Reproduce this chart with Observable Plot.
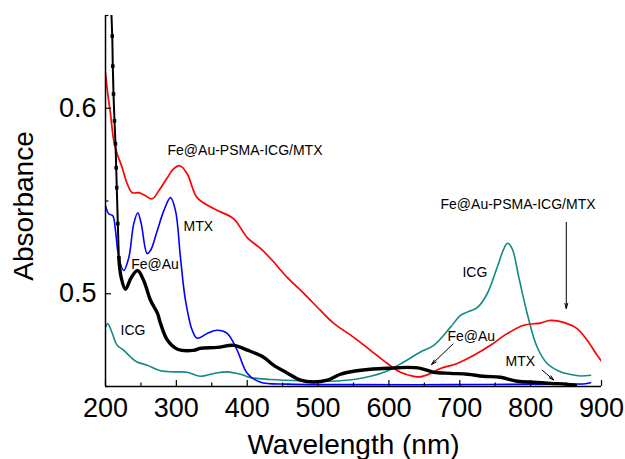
<!DOCTYPE html>
<html><head><meta charset="utf-8">
<script src="https://cdn.jsdelivr.net/npm/d3@7"></script>
<script src="https://cdn.jsdelivr.net/npm/@observablehq/plot@0.6"></script>
<style>body{margin:0;background:#fff}</style>
</head><body><div id="chart"></div>
<script>
// Fe@Au (black)
const feAuWl  = [206.5, 209.5, 210.3, 211.3, 212.7, 214.1, 215.1, 215.9, 217.4, 218.8, 222.1, 228.2, 236, 245.2, 254, 263.5, 273.4, 277.6, 287.5, 301.6, 324.2, 334.1, 358.1, 380.6, 400.4, 423, 437.1, 456.8, 475.2, 493.5, 513.3, 531.6, 550, 574, 598, 626.2, 644.5, 662.9, 686.9, 710.9, 733.4, 757.4, 781.4, 804, 828, 850, 863];
const feAuAbs = [0.668, 0.6389, 0.6227, 0.6077, 0.5932, 0.5808, 0.5679, 0.5572, 0.5378, 0.5195, 0.5088, 0.5024, 0.5085, 0.5125, 0.5070, 0.4965, 0.4894, 0.4840, 0.4749, 0.4701, 0.4695, 0.4706, 0.4711, 0.4722, 0.4696, 0.4658, 0.4615, 0.4572, 0.4534, 0.4524, 0.4534, 0.4566, 0.4582, 0.4593, 0.4598, 0.4603, 0.4598, 0.4577, 0.4571, 0.4566, 0.4555, 0.4550, 0.4528, 0.4523, 0.4517, 0.4513, 0.4507];
// MTX (blue)
const mtxWl  = [200, 204.7, 210.3, 214.1, 218.8, 225.8, 232.9, 239.9, 245.6, 250.4, 258.8, 263.5, 273, 282.3, 291.7, 298.8, 305.8, 312.9, 322.4, 329.4, 343.5, 357.6, 371.7, 385.9, 400, 418.7, 456.8, 545.8, 686.9, 828, 877.4, 884.5];
const mtxAbs = [0.5475, 0.5430, 0.5421, 0.5340, 0.5195, 0.5125, 0.5195, 0.5378, 0.5437, 0.5378, 0.5217, 0.5233, 0.5340, 0.5448, 0.5518, 0.5448, 0.5195, 0.4964, 0.4803, 0.4760, 0.4786, 0.4803, 0.4786, 0.4695, 0.4572, 0.4523, 0.4513, 0.4510, 0.4510, 0.4513, 0.4515, 0.4520];
// ICG (teal)
const icgWl  = [200, 203.2, 209.5, 216.5, 225.8, 235.3, 244.6, 258.8, 277.6, 296.4, 315.3, 334.1, 352.8, 371.7, 390.5, 404.6, 432.9, 479.8, 503.4, 526.9, 550.4, 574, 597.5, 621, 644.5, 663.3, 686.9, 701, 710.5, 724.6, 738.7, 752.8, 762.1, 767.3, 774, 783.3, 795.2, 809.1, 823.3, 842.1, 856.2, 870.3, 884.5];
const icgAbs = [0.4820, 0.4839, 0.4787, 0.4722, 0.4695, 0.4659, 0.4632, 0.4615, 0.4585, 0.4579, 0.4577, 0.4555, 0.4570, 0.4579, 0.4566, 0.4548, 0.4538, 0.4530, 0.4528, 0.4530, 0.4538, 0.4555, 0.4584, 0.4632, 0.4686, 0.4722, 0.4820, 0.4883, 0.4901, 0.4925, 0.5000, 0.5143, 0.5242, 0.5272, 0.5242, 0.5089, 0.4892, 0.4713, 0.4624, 0.4579, 0.4565, 0.4557, 0.4561];
// Fe@Au-PSMA-ICG/MTX (red)
const nanoWl  = [200, 203.2, 207.1, 211.7, 216.5, 223.6, 230.6, 237.7, 247, 256.4, 265.9, 275.2, 287.1, 296.4, 304.9, 315.3, 329.4, 352.4, 380.6, 400, 418.7, 432.9, 456.4, 479.8, 503.4, 522.2, 550.4, 574, 597.5, 616.3, 635.1, 644.5, 658.6, 672.8, 696.3, 719.8, 743.3, 766.9, 790.3, 813.9, 828, 851.6, 865.6, 879.8, 893.9, 900.9];
const nanoAbs = [0.6191, 0.6077, 0.5969, 0.5824, 0.5754, 0.5679, 0.5593, 0.5545, 0.5545, 0.5528, 0.5512, 0.5555, 0.5625, 0.5674, 0.5690, 0.5647, 0.5518, 0.5459, 0.5405, 0.5303, 0.5244, 0.5190, 0.5088, 0.5002, 0.4910, 0.4840, 0.4765, 0.4695, 0.4625, 0.4577, 0.4555, 0.4552, 0.4570, 0.4597, 0.4624, 0.4668, 0.4722, 0.4785, 0.4830, 0.4842, 0.4856, 0.4839, 0.4812, 0.4749, 0.4668, 0.4632];

const xMajor = [200, 300, 400, 500, 600, 700, 800, 900];
const xMinor = [250, 350, 450, 550, 650, 750, 850];
const yMajor = [0.5, 0.6];
const yMinor = [0.45, 0.55, 0.65];

const labelText = ["Fe@Au-PSMA-ICG/MTX", "Fe@Au-PSMA-ICG/MTX", "MTX", "Fe@Au", "ICG", "ICG", "Fe@Au", "MTX"];
const labelWl   = [287.5, 672.8, 310.1, 236.3, 221.2, 703.8, 682.6, 764.5];
const labelAbs  = [0.5749, 0.5459, 0.5340, 0.5136, 0.4776, 0.5088, 0.4744, 0.4609];

const arrowWl1  = [850.3, 690.4, 816.2];
const arrowAbs1 = [0.5385, 0.4729, 0.4588];
const arrowWl2  = [850.3, 660.0, 832.6];
const arrowAbs2 = [0.4920, 0.4618, 0.4535];

const toRows = (xs, ys) => xs.map((x, i) => ({x, y: ys[i]}));
const feAu = toRows(feAuWl, feAuAbs);
const mtx = toRows(mtxWl, mtxAbs);
const icg = toRows(icgWl, icgAbs);
const nano = toRows(nanoWl, nanoAbs);
const labels = labelText.map((t, i) => ({t, x: labelWl[i], y: labelAbs[i]}));
const arrows = arrowWl1.map((x1, i) => ({x1, y1: arrowAbs1[i], x2: arrowWl2[i], y2: arrowAbs2[i]}));

const chart = Plot.plot({
  width: 625, height: 459,
  marginLeft: 105, marginRight: 24, marginTop: 15, marginBottom: 73,
  style: {fontFamily: "'Liberation Sans', Arial, sans-serif", background: "#fff", color: "#000", overflow: "visible"},
  x: {domain: [200, 900]},
  y: {domain: [0.45, 0.65]},
  marks: [
    Plot.line(icg, {x: "x", y: "y", stroke: "#138a87", strokeWidth: 1.6, curve: "catmull-rom", clip: true}),
    Plot.line(mtx, {x: "x", y: "y", stroke: "#0000ff", strokeWidth: 1.6, curve: "catmull-rom", clip: true}),
    Plot.line(nano, {x: "x", y: "y", stroke: "#ff0000", strokeWidth: 1.7, curve: "catmull-rom", clip: true}),
    Plot.line(feAu.filter(d => d.y >= 0.5195), {x: "x", y: "y", stroke: "#000", strokeWidth: 2, curve: "catmull-rom", clip: true}),
    Plot.line(feAu.filter(d => d.y <= 0.5195), {x: "x", y: "y", stroke: "#000", strokeWidth: 3.4, curve: "catmull-rom", clip: true}),
    Plot.dot(feAu.filter(d => d.y > 0.515), {x: "x", y: "y", symbol: "square", r: 2, fill: "#000", clip: true}),
    Plot.ruleX([200], {stroke: "#000", strokeWidth: 1.5}),
    Plot.ruleY([0.45], {stroke: "#000", strokeWidth: 1.5}),
    Plot.axisX({ticks: xMajor, tickSize: 0, tickPadding: 11, fontSize: 27, label: null, tickFormat: d => String(d)}),
    Plot.axisX({ticks: xMajor, tickSize: 6, dy: -6, tickFormat: () => "", label: null, strokeWidth: 1.2}),
    Plot.axisX({ticks: xMinor, tickSize: 3.5, dy: -3.5, tickFormat: () => "", label: null, strokeWidth: 1.2}),
    Plot.axisY({ticks: yMajor, tickSize: 0, tickPadding: 9, fontSize: 27, label: null, tickFormat: d3.format(".1f")}),
    Plot.axisY({ticks: yMajor, tickSize: 6, dx: 6, tickFormat: () => "", label: null, strokeWidth: 1.2}),
    Plot.axisY({ticks: yMinor, tickSize: 3.5, dx: 3.5, tickFormat: () => "", label: null, strokeWidth: 1.2}),
    Plot.text(["Absorbance"], {frameAnchor: "left", textAnchor: "middle", lineAnchor: "middle", rotate: -90, dx: -81, dy: 5, fontSize: 28, fill: "#000"}),
    Plot.text(["Wavelength (nm)"], {frameAnchor: "bottom", textAnchor: "middle", dy: 67, fontSize: 28, fill: "#000"}),
    Plot.text(labels, {x: "x", y: "y", text: "t", textAnchor: "start", lineAnchor: "bottom", fontSize: 14, fill: "#000"}),
    Plot.arrow(arrows, {x1: "x1", y1: "y1", x2: "x2", y2: "y2", stroke: "#000", strokeWidth: 1, headLength: 8, headAngle: 30})
  ]
});
document.getElementById("chart").append(chart);
</script>
</body></html>
